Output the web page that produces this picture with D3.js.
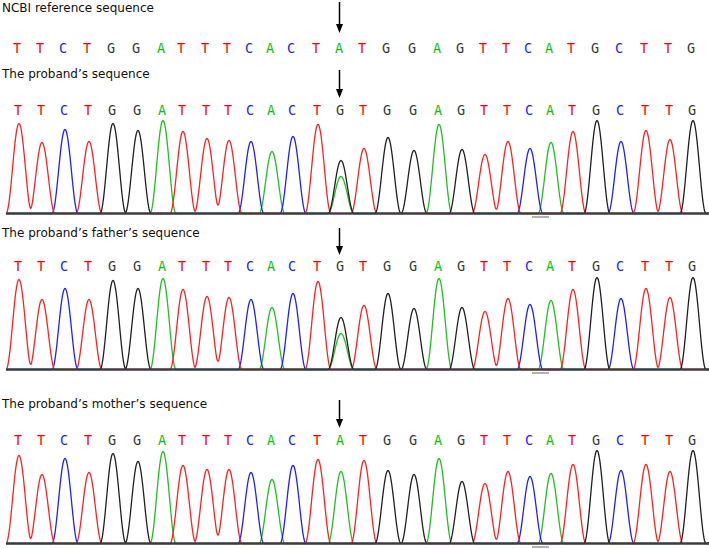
<!DOCTYPE html>
<html><head><meta charset="utf-8">
<script src="https://cdn.jsdelivr.net/npm/d3@7"></script>
<style>body{margin:0;background:#fff} svg{display:block}</style>
</head><body><svg id="chart" width="709" height="549"></svg>
<script>
// ---------- data ----------
const refSeq     = ["T","T","C","T","G","G","A","T","T","T","C","A","C","T","A","T","G","G","A","G","T","T","C","A","T","G","C","T","T","G"];
const probandSeq = ["T","T","C","T","G","G","A","T","T","T","C","A","C","T","G","T","G","G","A","G","T","T","C","A","T","G","C","T","T","G"];
const fatherSeq  = ["T","T","C","T","G","G","A","T","T","T","C","A","C","T","G","T","G","G","A","G","T","T","C","A","T","G","C","T","T","G"];
const motherSeq  = ["T","T","C","T","G","G","A","T","T","T","C","A","C","T","A","T","G","G","A","G","T","T","C","A","T","G","C","T","T","G"];
// scan position of each base call
const peakScan = [19,42,65,89,113,138,163,183,207,229,251,272,293,318,341,364,388,414,439,462,485,508,530,551,573,597,621,646,670,693];
// primary peak heights (signal)
const probandHeights = [90,71,84,72,90,83,93,82,75,73,72,62,77,89,53,65,76,63,89,64,59,72,65,71,82,93,72,83,74,93];
const fatherHeights  = [90,70,81,70,89,81,91,80,73,72,70,62,76,88,52,64,76,61,91,62,58,71,65,69,80,92,71,81,72,92];
const motherHeights  = [88,69,85,71,90,82,92,78,74,74,71,64,78,84,72,83,73,69,85,62,60,72,67,70,79,93,73,79,72,93];
// secondary (heterozygous) peaks
const probandSecondary = [{index:14, base:"A", height:37}];
const fatherSecondary  = [{index:14, base:"A", height:36}];
const motherSecondary  = [];
const titles = ["NCBI reference sequence","The proband\u2019s sequence","The proband\u2019s father\u2019s sequence","The proband\u2019s mother\u2019s sequence"];
const variantIndex = 14;

// ---------- styles / layout ----------
const baseColor  = {T:"#ff0000", C:"#2020ff", A:"#10c010", G:"#3a3a3a"};
const traceColor = {T:"#ff2020", C:"#2020ff", A:"#20c020", G:"#202020"};
const W = 709;
const rows = [
  {title:titles[0], seq:refSeq, titleY:12, letterY:53, arrow:[2,33], letterShift:-2},
  {title:titles[1], seq:probandSeq, heights:probandHeights, sec:probandSecondary, titleY:78, letterY:115, arrow:[70,98], base:213, letterShift:-1},
  {title:titles[2], seq:fatherSeq, heights:fatherHeights, sec:fatherSecondary, titleY:237, letterY:271, arrow:[228,255], base:369, letterShift:-1},
  {title:titles[3], seq:motherSeq, heights:motherHeights, sec:motherSecondary, titleY:408, letterY:445, arrow:[400,428], base:543, letterShift:-1}
];

const svg = d3.select("#chart");
const x = d3.scaleLinear().domain([0, 709]).range([0, W]);
const halfWidth = 13; // peak half-width in scan units

rows.forEach(r => {
  const g = svg.append("g");
  g.append("text").attr("x", 2).attr("y", r.titleY)
    .attr("font-family", "DejaVu Sans, Verdana, sans-serif").attr("font-size", 12)
    .attr("fill", "#111").text(r.title);

  g.selectAll("text.base").data(r.seq).join("text").attr("class","base")
    .attr("x", (d,i) => x(peakScan[i]) + r.letterShift).attr("y", r.letterY)
    .attr("text-anchor","middle")
    .attr("font-family","DejaVu Sans Mono, monospace").attr("font-size", 13.5)
    .attr("fill", d => baseColor[d]).text(d => d);

  // arrow
  const ax = x(peakScan[variantIndex]) - 1.5;
  g.append("line").attr("x1", ax).attr("x2", ax).attr("y1", r.arrow[0]).attr("y2", r.arrow[1]-6)
    .attr("stroke","#000").attr("stroke-width",1.5);
  g.append("path").attr("d", `M${ax-3.5},${r.arrow[1]-9} L${ax+3.5},${r.arrow[1]-9} L${ax},${r.arrow[1]} Z`).attr("fill","#000");

  if (!r.heights) return;
  const y = d3.scaleLinear().domain([0, 100]).range([r.base + 0.5, r.base - 99.5]);

  const peaks = r.seq.map((b,i) => ({base:b, pos:peakScan[i], h:r.heights[i]}))
    .concat(r.sec.map(s => ({base:s.base, pos:peakScan[s.index], h:s.height})));
  const xs = d3.range(6, 709.01, 0.5);
  ["A","C","T","G"].forEach(ch => {
    const pk = peaks.filter(p => p.base === ch);
    const vals = xs.map(s => {
      let v = 0;
      pk.forEach(p => { const dx = Math.abs(s - p.pos); if (dx < halfWidth) { const c = Math.cos(Math.PI*dx/(2*halfWidth)); v += p.h*c*c; } });
      return [s, v];
    });
    g.append("path").datum(vals)
      .attr("d", d3.line().x(d => x(d[0])).y(d => y(d[1])))
      .attr("fill","none").attr("stroke", traceColor[ch]).attr("stroke-width",1.3);
  });
  // baseline on top
  g.append("line").attr("x1", 6).attr("x2", W).attr("y1", r.base + 0.5).attr("y2", r.base + 0.5)
    .attr("stroke","#3c3c3c").attr("stroke-width",2);
  g.append("line").attr("x1", x(532)).attr("x2", x(549)).attr("y1", r.base + 4).attr("y2", r.base + 4)
    .attr("stroke","#999").attr("stroke-width",1.5);
});
</script></body></html>
